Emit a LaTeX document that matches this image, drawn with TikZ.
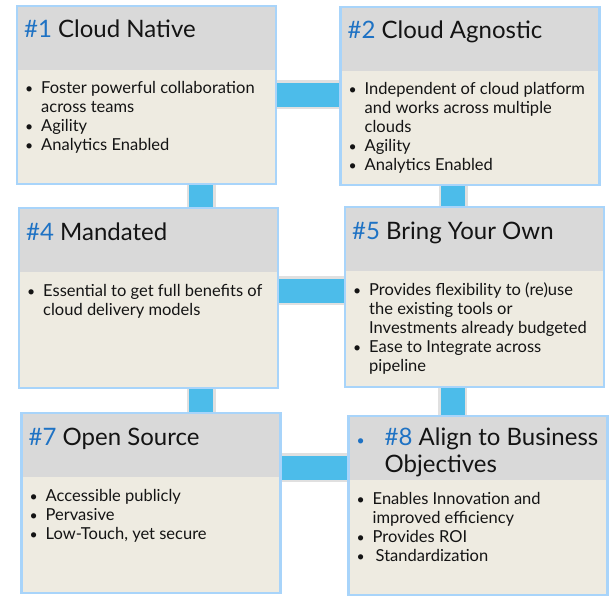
\documentclass[tikz,border=0pt]{standalone}
\usepackage{fontspec}
\setmainfont{Lato}
\usetikzlibrary{backgrounds}

\definecolor{bodybg}{RGB}{238,235,225}
\definecolor{headbg}{RGB}{217,217,217}
\definecolor{edge}{RGB}{168,212,250}
\definecolor{wire}{RGB}{76,188,234}
\definecolor{numblue}{RGB}{30,114,196}
\definecolor{ink}{RGB}{20,20,20}

\newcommand{\bul}{\makebox[16pt][l]{\fontsize{14}{19}\selectfont•}}
\newcommand{\ind}{\hspace*{16pt}}
\newcommand{\tnum}[1]{\textcolor{numblue}{\##1}}

\begin{document}
\begin{tikzpicture}[x=1pt, y=-1pt,
    box/.style = {draw=edge, line width=2.5pt, fill=bodybg, inner sep=0pt, outer sep=0pt,
      minimum width=259pt, minimum height=179pt,
      path picture={\fill[headbg] (path picture bounding box.north west)
        rectangle ([yshift=-64pt]path picture bounding box.north east);}},
    title/.style = {anchor=base west, inner sep=0pt, text=ink,
      font=\fontsize{24}{27}\selectfont},
    items/.style = {anchor=base west, inner sep=0pt, text=ink,
      font=\fontsize{16.5}{19}\selectfont},
    conn/.style = {draw=wire, line width=24pt,
      preaction={draw=black, opacity=0.12, line width=29pt}}]
    \useasboundingbox (0,0) rectangle (614,602);

    % boxes
    \node[box, minimum height=178pt] (b1) at (146.5,95)  {};
    \node[box, minimum height=178pt] (b2) at (470,96)    {};
    \node[box, minimum height=180pt] (b4) at (148.5,298) {};
    \node[box, minimum height=180pt] (b5) at (474.5,297) {};
    \node[box, minimum height=180pt] (b7) at (151,503)   {};
    \node[box]                       (b8) at (478,505.5) {};

    % titles
    \node[title] (t1) at ([shift={(7pt,-32pt)}]b1.north west) {\tnum{1} Cloud Native};
    \node[title] (t2) at ([shift={(7pt,-32pt)}]b2.north west) {\tnum{2} Cloud Agnostic};
    \node[title] (t4) at ([shift={(7pt,-32pt)}]b4.north west) {\tnum{4} Mandated};
    \node[title] (t5) at ([shift={(7pt,-32pt)}]b5.north west) {\tnum{5} Bring Your Own};
    \node[title] (t7) at ([shift={(7pt,-32pt)}]b7.north west) {\tnum{7} Open Source};
    \node[title] (t8) at ([shift={(8pt,-29pt)}]b8.north west)
      {\begin{tabular}[t]{@{}l@{}}
       \makebox[28pt][l]{\textcolor{numblue}{\fontsize{14}{19}\selectfont •}}\tnum{8} Align to Business\\
       \hspace*{28pt}Objectives
       \end{tabular}};

    % bullet lists
    \node[items] (l1) at ([shift={(8pt,-88pt)}]b1.north west)
      {\begin{tabular}[t]{@{}l@{}}
       \bul Foster powerful collaboration\\ \ind across teams\\ \bul Agility\\ \bul Analytics Enabled
       \end{tabular}};
    \node[items] (l2) at ([shift={(8pt,-88pt)}]b2.north west)
      {\begin{tabular}[t]{@{}l@{}}
       \bul Independent of cloud platform\\ \ind and works across multiple\\ \ind clouds\\
       \bul Agility\\ \bul Analytics Enabled
       \end{tabular}};
    \node[items] (l4) at ([shift={(8pt,-88pt)}]b4.north west)
      {\begin{tabular}[t]{@{}l@{}}
       \bul Essential to get full benefits of\\ \ind cloud delivery models
       \end{tabular}};
    \node[items] (l5) at ([shift={(8pt,-88pt)}]b5.north west)
      {\begin{tabular}[t]{@{}l@{}}
       \bul Provides flexibility to (re)use\\ \ind the existing tools or\\ \ind Investments already budgeted\\
       \bul Ease to Integrate across\\ \ind pipeline
       \end{tabular}};
    \node[items] (l7) at ([shift={(8pt,-88pt)}]b7.north west)
      {\begin{tabular}[t]{@{}l@{}}
       \bul Accessible publicly\\ \bul Pervasive\\ \bul Low-Touch, yet secure
       \end{tabular}};
    \node[items] (l8) at ([shift={(8pt,-88pt)}]b8.north west)
      {\begin{tabular}[t]{@{}l@{}}
       \bul Enables Innovation and\\ \ind improved efficiency\\ \bul Provides ROI\\ \bul\hspace{3pt}Standardization
       \end{tabular}};

    % connectors
    \begin{scope}[on background layer]
        \draw[conn] (b1.east) -- (b1.east -| b2.west);
        \draw[conn] ([yshift=7.5pt]b4.east) -- ([yshift=7.5pt]b4.east -| b5.west);
        \draw[conn] ([yshift=35.5pt]b7.east) -- ([yshift=35.5pt]b7.east -| b8.west);
        \draw[conn] ([xshift=54.5pt]b1.south) -- ([xshift=54.5pt]b1.south |- b4.north);
        \draw[conn] ([xshift=52.5pt]b4.south) -- ([xshift=52.5pt]b4.south |- b7.north);
        \draw[conn] ([xshift=-17pt]b2.south) -- ([xshift=-17pt]b2.south |- b5.north);
        \draw[conn] ([xshift=-22pt]b5.south) -- ([xshift=-22pt]b5.south |- b8.north);
    \end{scope}
\end{tikzpicture}
\end{document}
